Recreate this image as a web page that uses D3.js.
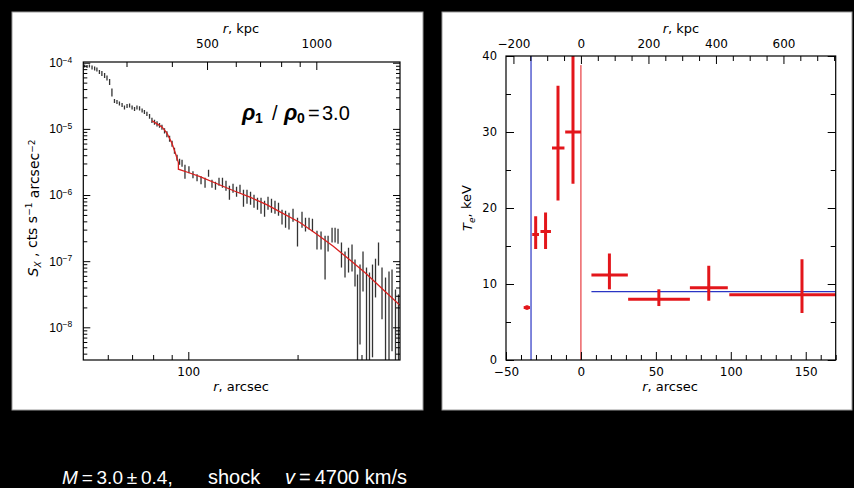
<!DOCTYPE html>
<html><head><meta charset="utf-8">
<script src="https://cdn.jsdelivr.net/npm/d3@7"></script>
<style>body{margin:0;background:#000}svg{display:block}</style>
</head><body>
<svg id="c" width="854" height="488"></svg>
<script>
// ---------- LEFT PANEL DATA: surface brightness profile ----------
const rArcsec=[51.8,52.6,53.4,54.3,55.2,56.0,56.9,57.8,58.8,59.7,60.7,61.6,62.6,63.6,64.6,65.7,66.7,67.8,68.9,70.0,71.1,72.2,73.4,74.6,75.7,76.9,78.2,79.4,80.7,82.0,83.3,84.6,86.0,87.3,88.8,90.2,91.6,93.1,94.6,96.1,97.9,100.4,103.0,105.7,108.4,111.2,113.7,116.2,118.8,121.5,124.2,127.0,129.8,132.8,135.8,138.8,141.9,145.1,148.4,151.7,155.1,158.6,162.2,165.8,169.5,173.3,177.2,181.2,185.3,189.4,194.3,199.9,205.7,210.3,215.1,219.8,226.2,232.1,238.1,242.7,248.9,253.7,258.5,264.2,270.2,276.3,282.5,287.9,292.5,297.2,302.9,309.7,315.6,321.7,327.9,334.2,341.7,349.4,357.2,364.1,372.2,379.4];
const sxHi=[9.40e-5,9.23e-5,9.40e-5,9.07e-5,8.77e-5,8.47e-5,7.76e-5,7.50e-5,6.99e-5,6.41e-5,
5.68e-5,4.08e-5,2.84e-5,2.74e-5,2.60e-5,2.47e-5,2.26e-5,2.38e-5,2.42e-5,2.26e-5,
2.15e-5,2.26e-5,2.19e-5,2.04e-5,1.93e-5,1.81e-5,1.68e-5,1.47e-5,1.37e-5,1.30e-5,
1.23e-5,1.15e-5,1.02e-5,9.17e-6,7.84e-6,6.59e-6,5.17e-6,4.05e-6,3.53e-6,3.41e-6,
2.86e-6,2.72e-6,2.29e-6,2.06e-6,1.92e-6,1.82e-6,2.41e-6,1.70e-6,1.59e-6,1.82e-6,
1.82e-6,1.64e-6,1.38e-6,1.48e-6,1.33e-6,1.43e-6,1.20e-6,1.20e-6,1.12e-6,1.01e-6,
9.11e-7,9.11e-7,8.20e-7,9.43e-7,8.80e-7,8.20e-7,7.65e-7,6.00e-7,5.80e-7,5.41e-7,
6.22e-7,4.55e-7,5.60e-7,4.55e-7,4.55e-7,4.39e-7,2.89e-7,2.80e-7,2.43e-7,2.43e-7,
3.21e-7,3.21e-7,3.10e-7,1.91e-7,1.40e-7,1.60e-7,1.78e-7,1.06e-7,6.28e-8,8.89e-8,
1.40e-7,8.01e-8,6.73e-8,8.89e-8,1.09e-7,1.91e-7,8.01e-8,5.66e-8,6.97e-8,7.47e-8,
3.73e-8,3.14e-8];
const sxLo=[8.47e-5,8.32e-5,8.47e-5,7.90e-5,7.63e-5,7.37e-5,6.75e-5,6.30e-5,5.88e-5,5.39e-5,
4.61e-5,3.09e-5,2.47e-5,2.38e-5,2.26e-5,2.15e-5,1.97e-5,2.07e-5,2.11e-5,1.97e-5,
1.87e-5,1.97e-5,1.90e-5,1.77e-5,1.68e-5,1.57e-5,1.42e-5,1.23e-5,1.15e-5,1.09e-5,
1.04e-5,9.66e-6,8.55e-6,7.44e-6,6.37e-6,5.35e-6,4.20e-6,3.29e-6,2.86e-6,2.67e-6,
1.76e-6,2.13e-6,1.79e-6,1.62e-6,1.46e-6,1.29e-6,1.89e-6,1.29e-6,1.20e-6,1.38e-6,
1.29e-6,1.16e-6,8.50e-7,1.08e-6,9.43e-7,1.08e-6,6.66e-7,7.39e-7,7.14e-7,6.44e-7,
6.00e-7,5.22e-7,4.71e-7,6.00e-7,5.41e-7,5.22e-7,4.87e-7,3.57e-7,3.21e-7,3.00e-7,
3.96e-7,1.66e-7,3.21e-7,2.80e-7,3.00e-7,2.80e-7,1.50e-7,1.50e-7,5.28e-8,1.40e-7,
1.91e-7,1.91e-7,1.84e-7,8.01e-8,5.66e-8,6.73e-8,6.97e-8,4.14e-8,1e-9,5.52e-9,
3.48e-8,1e-9,1e-9,3.52e-9,2.83e-8,8.58e-8,1.32e-8,1e-9,1e-9,4.33e-9,
1e-9,1e-9];
const modelR=[79.4,82.0,84.6,87.3,90.2,92.0,93.9,93.9,100,107.7,120,132.8,147.9,164.4,180,203,225,250.8,280,308.7,345,383];
const modelS=[1.33e-5,1.19e-5,1.07e-5,8.6e-6,6.0e-6,4.4e-6,3.1e-6,2.46e-6,2.19e-6,1.90e-6,1.48e-6,1.17e-6,9.3e-7,7.14e-7,5.47e-7,3.85e-7,2.6e-7,1.68e-7,1.02e-7,6.5e-8,3.67e-8,2.15e-8];
const kpcPerArcsec=4.44;
const sxYMajor=[1e-4,1e-5,1e-6,1e-7,1e-8];
const sxXMajor=[100];
const sxXMinor=[60,70,80,90,200,300];
const kpcMajorL=[500,1000];
const kpcMinorL=[300,400,600,700,800,900];

// ---------- RIGHT PANEL DATA: temperature profile ----------
const teR=[-36,-30.2,-23.6,-15.3,-5.3,19,52,85.3,147.5];
const teRlo=[-38.2,-32.5,-27,-19.3,-10.5,7,31.5,72.7,99];
const teRhi=[-34.0,-28,-20,-11,0,31.3,72.7,98,175];
const teT=[6.9,16.5,16.9,27.9,30,11.2,8.0,9.5,8.6];
const teTlo=[6.6,14.6,14.6,21,23.2,9.3,7.1,7.8,6.2];
const teThi=[7.2,18.9,19.4,36.1,41,14.0,9.3,12.4,13.25];
const shockR=-33.3;
const centerLineTop=38.8;
const fitT=9.0, fitRStart=7, fitREnd=170;
const teXMajor=[-50,0,50,100,150];
const teYMajor=[0,10,20,30,40];
const kpcMajorR=[-200,0,200,400,600];

const F="'DejaVu Sans', Verdana, sans-serif";
const FA="'Liberation Sans', Arial, Helvetica, sans-serif";
const TICK=12, TITLE=13;
const svg=d3.select("#c");
svg.append("rect").attr("width",854).attr("height",488).attr("fill","#000");
svg.append("rect").attr("x",12).attr("y",12).attr("width",411).attr("height",398).attr("fill","#fff").attr("stroke","#999");
svg.append("rect").attr("x",442).attr("y",12).attr("width",410).attr("height",398).attr("fill","#fff").attr("stroke","#999");

function styleAxis(g,fs,fam){
  g.attr("font-family",fam||F).attr("font-size",fs);
  g.select(".domain").remove();
  g.selectAll(".tick line").attr("stroke","#000").attr("stroke-width",1);
  g.selectAll(".tick text").attr("fill","#000");
}
function range(a,b,s){const o=[];for(let v=a;v<=b+1e-9;v+=s)o.push(+v.toFixed(6));return o;}
const minus=d=>d<0?"−"+(-d):""+d;

// ================= LEFT PANEL =================
const L={x0:83.3,x1:400,y0:62,y1:360};
const xL=d3.scaleLog().domain([51.37,383]).range([L.x0,L.x1]);
const yL=d3.scaleLog().domain([Math.pow(10,-8.494),Math.pow(10,-3.989)]).range([L.y1,L.y0]);
const xLk=d3.scaleLog().domain([51.37*kpcPerArcsec,383*kpcPerArcsec]).range([L.x0,L.x1]);
svg.append("clipPath").attr("id","clipL").append("rect").attr("x",L.x0).attr("y",L.y0).attr("width",L.x1-L.x0).attr("height",L.y1-L.y0);
const gL=svg.append("g");
const plotL=gL.append("g").attr("clip-path","url(#clipL)");
plotL.selectAll("line.eb").data(rArcsec).join("line")
  .attr("x1",(d)=>xL(d)).attr("x2",(d)=>xL(d))
  .attr("y1",(d,i)=>yL(sxHi[i])).attr("y2",(d,i)=>Math.min(yL(sxLo[i]),L.y1+5))
  .attr("stroke","#333").attr("stroke-width",1.3);
plotL.append("path").datum(modelR.map((r,i)=>[r,modelS[i]]))
  .attr("d",d3.line().x(d=>xL(d[0])).y(d=>yL(d[1])))
  .attr("fill","none").attr("stroke","#d8201e").attr("stroke-width",1.3);

const yMinor=[];
for(let e=-9;e<=-4;e++)for(let m=2;m<=9;m++){const v=m*Math.pow(10,e);if(v>yL.domain()[0]&&v<yL.domain()[1])yMinor.push(v);}
let g;
g=gL.append("g").attr("transform",`translate(0,${L.y1})`).call(d3.axisBottom(xL).tickValues(sxXMajor).tickSize(-8).tickSizeOuter(0).tickPadding(7).tickFormat(d3.format("d")));styleAxis(g,TICK);
g=gL.append("g").attr("transform",`translate(0,${L.y1})`).call(d3.axisBottom(xL).tickValues(sxXMinor).tickSize(-5).tickSizeOuter(0).tickFormat(""));styleAxis(g,TICK);
g=gL.append("g").attr("transform",`translate(0,${L.y0})`).call(d3.axisTop(xLk).tickValues(kpcMajorL).tickSize(-8).tickSizeOuter(0).tickPadding(14).tickFormat(d3.format("d")));styleAxis(g,TICK);
g=gL.append("g").attr("transform",`translate(0,${L.y0})`).call(d3.axisTop(xLk).tickValues(kpcMinorL).tickSize(-5).tickSizeOuter(0).tickFormat(""));styleAxis(g,TICK);
g=gL.append("g").attr("transform",`translate(${L.x0},0)`).call(d3.axisLeft(yL).tickValues(sxYMajor).tickSize(-7).tickSizeOuter(0).tickPadding(11).tickFormat(""));styleAxis(g,12,FA);
g.selectAll(".tick text").each(function(d){
  const t=d3.select(this);
  t.append("tspan").text("10");
  t.append("tspan").attr("dy","-0.5em").attr("font-size","8.5px").text("−"+(-Math.round(Math.log10(d))));
});
g=gL.append("g").attr("transform",`translate(${L.x0},0)`).call(d3.axisLeft(yL).tickValues(yMinor).tickSize(-4).tickSizeOuter(0).tickFormat(""));styleAxis(g,TICK);
g=gL.append("g").attr("transform",`translate(${L.x1},0)`).call(d3.axisRight(yL).tickValues(sxYMajor).tickSize(-7).tickSizeOuter(0).tickFormat(""));styleAxis(g,TICK);
g=gL.append("g").attr("transform",`translate(${L.x1},0)`).call(d3.axisRight(yL).tickValues(yMinor).tickSize(-4).tickSizeOuter(0).tickFormat(""));styleAxis(g,TICK);
gL.append("rect").attr("x",L.x0).attr("y",L.y0).attr("width",L.x1-L.x0).attr("height",L.y1-L.y0).attr("fill","none").attr("stroke","#000").attr("stroke-width",1.2);

function axLabel(parent,x,y,parts,rot,fs){
  const t=parent.append("text").attr("x",x).attr("y",y).attr("text-anchor","middle").attr("font-family",F).attr("font-size",fs||TITLE).attr("fill","#000");
  if(rot)t.attr("transform",`rotate(-90,${x},${y})`);
  parts.forEach(p=>{const s=t.append("tspan").text(p.t);if(p.i)s.attr("font-style","italic");if(p.dy)s.attr("dy",p.dy);if(p.fs)s.attr("font-size",p.fs);});
  return t;
}
axLabel(gL,241,33,[{t:"r",i:1},{t:", kpc"}]);
axLabel(gL,241,391,[{t:"r",i:1},{t:", arcsec"}]);
axLabel(gL,38,208,[{t:"S",i:1},{t:"X",i:1,dy:"0.3em",fs:9},{t:" , cts s",dy:"-0.3em"},{t:"−1",dy:"-0.45em",fs:9},{t:" arcsec",dy:"0.45em"},{t:"−2",dy:"-0.45em",fs:9}],true,14);

const ann=gL.append("g").attr("font-family",FA).attr("fill","#000");
ann.append("text").attr("x",242).attr("y",120).attr("font-size",22).attr("font-weight","bold").attr("font-style","italic").text("ρ");
ann.append("text").attr("x",255).attr("y",123).attr("font-size",14).attr("font-weight","bold").text("1");
ann.append("text").attr("x",272).attr("y",120).attr("font-size",20).text("/");
ann.append("text").attr("x",284).attr("y",120).attr("font-size",22).attr("font-weight","bold").attr("font-style","italic").text("ρ");
ann.append("text").attr("x",297).attr("y",123).attr("font-size",14).attr("font-weight","bold").text("0");
ann.append("text").attr("x",308).attr("y",120).attr("font-size",20).text("=");
ann.append("text").attr("x",322).attr("y",120).attr("font-size",20).text("3.0");

// ================= RIGHT PANEL =================
const R={x0:506,x1:835.7,y0:56,y1:360};
const xR=d3.scaleLinear().domain([-50,170]).range([R.x0,R.x1]);
const yR=d3.scaleLinear().domain([0,40]).range([R.y1,R.y0]);
const xRk=d3.scaleLinear().domain([-50*kpcPerArcsec,170*kpcPerArcsec]).range([R.x0,R.x1]);
svg.append("clipPath").attr("id","clipR").append("rect").attr("x",R.x0).attr("y",R.y0).attr("width",R.x1-R.x0).attr("height",R.y1-R.y0);
const gR=svg.append("g");
const plotR=gR.append("g").attr("clip-path","url(#clipR)");
const BLUE="#2a35c4", RED="#e3161b";
plotR.append("line").attr("x1",xR(shockR)).attr("x2",xR(shockR)).attr("y1",yR(0)).attr("y2",yR(40)).attr("stroke",BLUE).attr("stroke-width",1.2);
plotR.append("line").attr("x1",xR(0)).attr("x2",xR(0)).attr("y1",yR(0)).attr("y2",yR(centerLineTop)).attr("stroke",RED).attr("stroke-width",1);
plotR.append("line").attr("x1",xR(fitRStart)).attr("x2",xR(fitREnd)).attr("y1",yR(fitT)).attr("y2",yR(fitT)).attr("stroke",BLUE).attr("stroke-width",1.2);
plotR.selectAll("line.h").data(teR).join("line").attr("class","h")
  .attr("x1",(d,i)=>xR(teRlo[i])).attr("x2",(d,i)=>xR(teRhi[i]))
  .attr("y1",(d,i)=>yR(teT[i])).attr("y2",(d,i)=>yR(teT[i]))
  .attr("stroke",RED).attr("stroke-width",3);
plotR.selectAll("line.v").data(teR).join("line").attr("class","v")
  .attr("x1",d=>xR(d)).attr("x2",d=>xR(d))
  .attr("y1",(d,i)=>yR(teTlo[i])).attr("y2",(d,i)=>yR(teThi[i]))
  .attr("stroke",RED).attr("stroke-width",3);

g=gR.append("g").attr("transform",`translate(0,${R.y1})`).call(d3.axisBottom(xR).tickValues(teXMajor).tickSize(-8).tickSizeOuter(0).tickPadding(7).tickFormat(minus));styleAxis(g,TICK);
g=gR.append("g").attr("transform",`translate(0,${R.y1})`).call(d3.axisBottom(xR).tickValues(range(-40,170,10).filter(v=>v%50!==0)).tickSize(-5).tickSizeOuter(0).tickFormat(""));styleAxis(g,TICK);
g=gR.append("g").attr("transform",`translate(0,${R.y0})`).call(d3.axisTop(xRk).tickValues(kpcMajorR).tickSize(-8).tickSizeOuter(0).tickPadding(8).tickFormat(minus));styleAxis(g,TICK);
g=gR.append("g").attr("transform",`translate(0,${R.y0})`).call(d3.axisTop(xRk).tickValues(range(-200,750,50).filter(v=>v%200!==0)).tickSize(-5).tickSizeOuter(0).tickFormat(""));styleAxis(g,TICK);
g=gR.append("g").attr("transform",`translate(${R.x0},0)`).call(d3.axisLeft(yR).tickValues(teYMajor).tickSize(-8).tickSizeOuter(0).tickPadding(9));styleAxis(g,11.5);
g=gR.append("g").attr("transform",`translate(${R.x0},0)`).call(d3.axisLeft(yR).tickValues([5,15,25,35]).tickSize(-5).tickSizeOuter(0).tickFormat(""));styleAxis(g,TICK);
g=gR.append("g").attr("transform",`translate(${R.x1},0)`).call(d3.axisRight(yR).tickValues(teYMajor).tickSize(-8).tickSizeOuter(0).tickFormat(""));styleAxis(g,TICK);
g=gR.append("g").attr("transform",`translate(${R.x1},0)`).call(d3.axisRight(yR).tickValues([5,15,25,35]).tickSize(-5).tickSizeOuter(0).tickFormat(""));styleAxis(g,TICK);
gR.append("rect").attr("x",R.x0).attr("y",R.y0).attr("width",R.x1-R.x0).attr("height",R.y1-R.y0).attr("fill","none").attr("stroke","#000").attr("stroke-width",1.2);
axLabel(gR,681,33,[{t:"r",i:1},{t:", kpc"}]);
axLabel(gR,670,391,[{t:"r",i:1},{t:", arcsec"}]);
axLabel(gR,472,208,[{t:"T",i:1},{t:"e",i:1,dy:"0.3em",fs:9},{t:", keV",dy:"-0.3em"}],true);

// ================= BOTTOM TEXT =================
const bt=svg.append("text").attr("y",484).attr("fill","#fff").attr("font-family",FA).attr("font-size",19);
bt.append("tspan").attr("x",62).attr("font-style","italic").text("M");
bt.append("tspan").text("\u2009=\u20093.0\u2009±\u20090.4,");
bt.append("tspan").attr("x",208).attr("font-size",20).text("shock");
bt.append("tspan").attr("x",285).attr("font-size",20).attr("font-style","italic").text("v");
bt.append("tspan").attr("font-size",20).text("\u2009=\u20094700 km/s");
</script>
</body></html>
